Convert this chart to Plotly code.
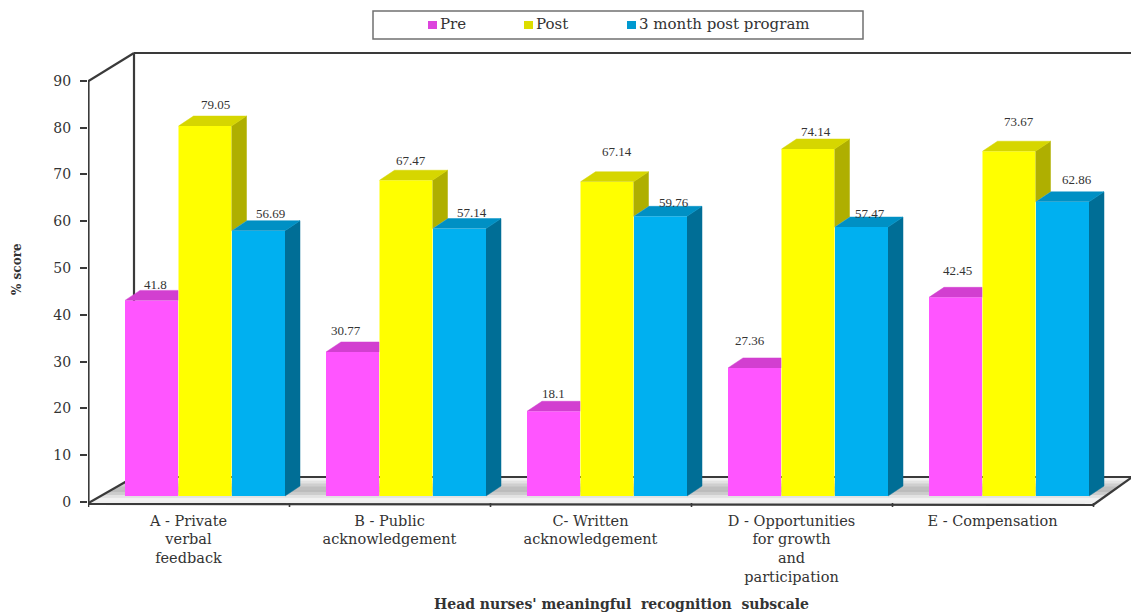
import plotly.graph_objects as go

categories = ["A - Private<br>verbal<br>feedback", "B - Public<br>acknowledgement",
              "C- Written<br>acknowledgement",
              "D - Opportunities<br>for growth<br>and<br>participation", "E - Compensation"]
pre = [41.8, 30.77, 18.1, 27.36, 42.45]
post = [79.05, 67.47, 67.14, 74.14, 73.67]
follow_up = [56.69, 57.14, 59.76, 57.47, 62.86]
series_names = ["Pre", "Post", "3 month post program"]
y_ticks = list(range(0, 100, 10))

FONT = "Liberation Serif"
WIDE = "DejaVu Serif"
INK = "#333333"
W, H = 1131, 613
L, R, T, B = 88, 1131, 48, 507
SX = 201.0   # px per category
SY = 4.68    # px per % point
X_AT_0 = 188.5
Y_AT_0 = 502.0

def ux(px):
    return (px - X_AT_0) / SX
def uy(py):
    return (Y_AT_0 - py) / SY
def wpx(px):
    return px / SX
def hpx(px):
    return px / SY
def paper_x(px):
    return (px - L) / (R - L)
def paper_y(py):
    return (B - py) / (B - T)

BASE = hpx(6)
BAR_W = wpx(53)
DX, DY = wpx(15), hpx(10)
OFFSETS = [wpx(-37), wpx(16.5), wpx(70)]
FRONT = ["#FF55FF", "#FFFF00", "#00B0F0"]
TOPC = ["#D23FD0", "#D6D600", "#0090C4"]
SIDE = ["#B030B0", "#AFAF00", "#006E96"]
idx = range(len(categories))
fig = go.Figure()

# front faces
for name, vals, off, col in zip(series_names, [pre, post, follow_up], OFFSETS, FRONT):
    fig.add_trace(go.Bar(x=[i + off for i in idx], y=vals, base=BASE, width=BAR_W, name=name,
                         marker=dict(color=col, line=dict(width=0)), showlegend=False,
                         hoverinfo="skip"))

def poly(xs, ys, color):
    fig.add_trace(go.Scatter(x=xs, y=ys, mode="lines", fill="toself", fillcolor=color,
                             line=dict(width=0.5, color=color), showlegend=False, hoverinfo="skip"))

# depth faces, trimmed to what stays visible
for i in idx:
    a, b, c = [BASE + s[i] for s in (pre, post, follow_up)]
    xp, xy, xb = [i + o for o in OFFSETS]
    hw = BAR_W / 2
    # pink top, stops at yellow front
    poly([xp - hw, xp - hw + DX, xp + hw, xp + hw], [a, a + DY, a + DY, a], TOPC[0])
    # yellow side down to the blue top
    poly([xy + hw, xy + hw + DX, xy + hw + DX, xy + hw], [b, b + DY, c + DY, c], SIDE[1])
    # yellow top
    poly([xy - hw, xy - hw + DX, xy + hw + DX, xy + hw], [b, b + DY, b + DY, b], TOPC[1])
    # blue side and top
    poly([xb + hw, xb + hw + DX, xb + hw + DX, xb + hw], [c, c + DY, BASE + DY, BASE], SIDE[2])
    poly([xb - hw, xb - hw + DX, xb + hw + DX, xb + hw], [c, c + DY, c + DY, c], TOPC[2])

shapes = []
def line(x0, y0, x1, y1, w=2.2, color="#3a3a3a"):
    shapes.append(dict(type="line", xref="x", yref="y", layer="below",
                       x0=ux(x0), y0=uy(y0), x1=ux(x1), y1=uy(y1),
                       line=dict(color=color, width=w)))

# floor, banded to imitate its gradient
bands = ["#f2f2f2", "#e2e2e2", "#cfcfcf", "#bfbfbf", "#bcbcbc", "#cccccc", "#e2e2e2", "#f3f3f3", "#efefef"]
y_back, y_front = 478.0, 504.0
x_bl, x_fl, x_br, x_fr = 134.0, 90.0, 1131.0, 1093.0
n = len(bands)
for k, col in enumerate(bands):
    t0, t1 = k / n, (k + 1) / n
    pts = [(x_bl + (x_fl - x_bl) * t0, y_back + (y_front - y_back) * t0),
           (x_br + (x_fr - x_br) * t0, y_back + (y_front - y_back) * t0),
           (x_br + (x_fr - x_br) * t1, y_back + (y_front - y_back) * t1),
           (x_bl + (x_fl - x_bl) * t1, y_back + (y_front - y_back) * t1)]
    path = "M " + " L ".join(f"{ux(a)},{uy(b)}" for a, b in pts) + " Z"
    shapes.append(dict(type="path", xref="x", yref="y", layer="below", path=path,
                       fillcolor=col, line=dict(width=0.6, color=col)))

line(88.5, 81, 88.5, 503)
line(88.5, 81, 134, 53)
line(134, 53, 134, 477)
line(134, 53, 1131, 53)
line(134, 477, 1131, 477)
line(88.5, 503, 134, 477)
line(88, 504, 1093, 505)
line(1093, 505, 1131, 478)
for i in range(6):
    line(88.5 + 201 * i, 503, 88.5 + 201 * i, 508, w=1.6)

# legend box and swatches
shapes.append(dict(type="rect", xref="paper", yref="paper",
                   x0=paper_x(373), x1=paper_x(863), y0=paper_y(39), y1=paper_y(11),
                   line=dict(color="#707070", width=1.5), fillcolor="white"))
annotations = []
for name, col, x0 in zip(series_names, ["#DD44DD", "#DDDD00", "#0099D0"], [428, 524, 627]):
    shapes.append(dict(type="rect", xref="paper", yref="paper",
                       x0=paper_x(x0), x1=paper_x(x0 + 9), y0=paper_y(29), y1=paper_y(21),
                       line=dict(width=0), fillcolor=col))
    annotations.append(dict(xref="paper", yref="paper", x=paper_x(x0 + 10), y=paper_y(24),
                            text=name, showarrow=False, xanchor="left", yanchor="middle",
                            font=dict(family=WIDE, size=15, color=INK)))

# value labels
shift_x = [[4, -7, 0, -5, 2], [10, 5, 10, 8, 10], [12, 12, 13, 8, 14]]
shift_y = [16, 22, 18, 27, 27], [22, 20, 30, 18, 30], [17, 16, 14, 14, 22]
for vals, off, sx, sy in zip([pre, post, follow_up], OFFSETS, shift_x, shift_y):
    for i in idx:
        annotations.append(dict(x=i + off, y=BASE + vals[i], text=str(vals[i]), showarrow=False,
                                xanchor="center", yanchor="middle", xshift=sx[i], yshift=sy[i],
                                font=dict(family=FONT, size=13, color=INK)))

annotations.append(dict(xref="paper", yref="paper", x=paper_x(17), y=paper_y(269), text="<b>% score</b>",
                        textangle=-90, showarrow=False, xanchor="center", yanchor="middle",
                        font=dict(family=WIDE, size=12, color=INK)))
annotations.append(dict(xref="paper", yref="paper", x=paper_x(621), y=paper_y(604),
                        text="<b>Head nurses' meaningful  recognition  subscale</b>", showarrow=False,
                        xanchor="center", yanchor="middle",
                        font=dict(family=WIDE, size=14, color=INK)))

fig.update_layout(
    width=W, height=H, margin=dict(l=L, r=W - R, t=T, b=H - B, pad=0, autoexpand=False),
    paper_bgcolor="white", plot_bgcolor="white", shapes=shapes, annotations=annotations,
    showlegend=False, barmode="overlay",
    xaxis=dict(range=[ux(L), ux(R)], tickmode="array", tickvals=list(idx), ticktext=categories,
               showgrid=False, zeroline=False, showline=False, ticks="",
               ticklabelstandoff=3, automargin=False, tickangle=0,
               tickfont=dict(family=WIDE, size=14.5, color=INK)),
    yaxis=dict(range=[uy(B), uy(T)], tickmode="array", tickvals=y_ticks, ticktext=[str(v) for v in y_ticks],
               showgrid=False, zeroline=False, showline=False, ticks="outside", ticklen=7, tickwidth=1.8,
               tickcolor="#3a3a3a", automargin=False, ticklabelstandoff=6,
               tickfont=dict(family=WIDE, size=14, color=INK)),
)
fig.write_html("out.html", config=dict(displayModeBar=False),
               post_script="document.body.style.margin='0';")
